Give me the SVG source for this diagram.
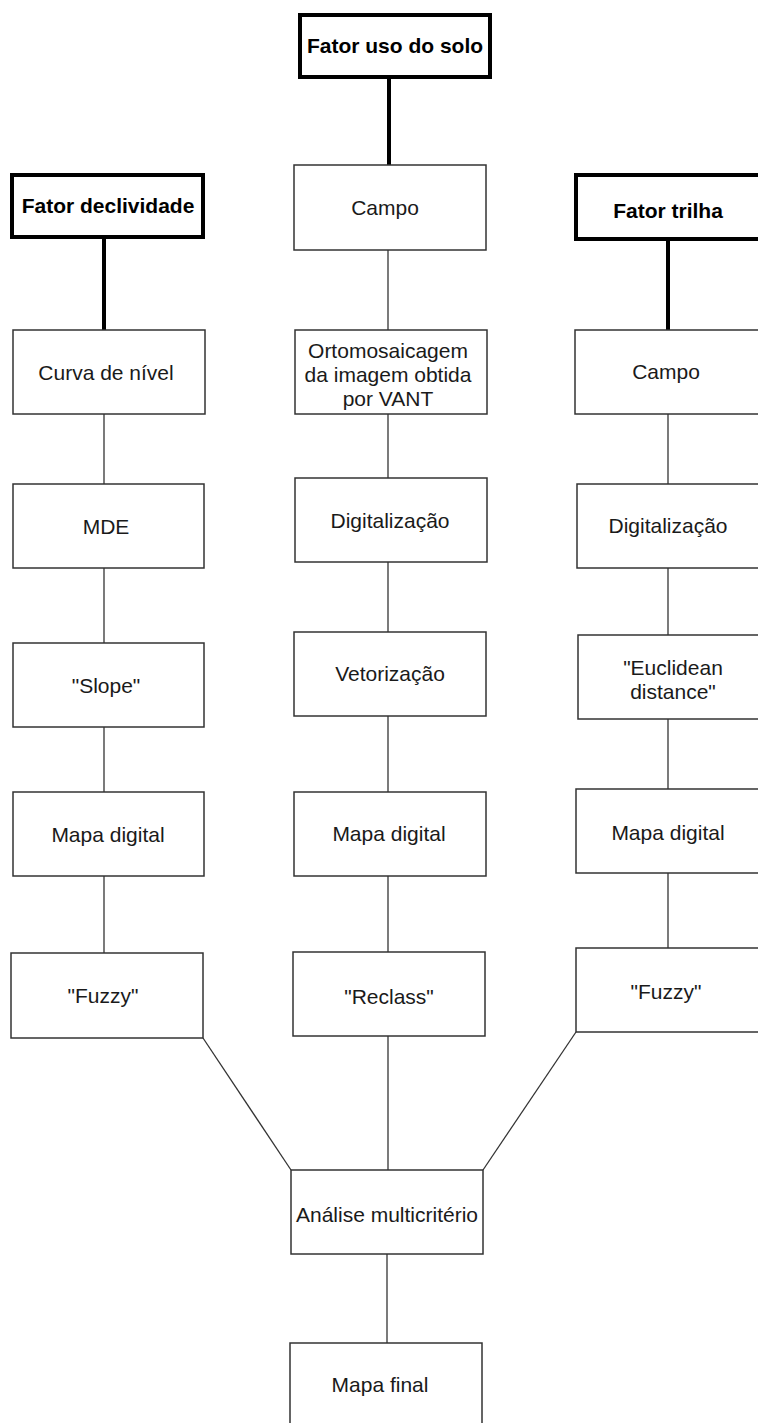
<svg xmlns="http://www.w3.org/2000/svg" width="758" height="1423" viewBox="0 0 758 1423">
<style>
.bg{fill:#ffffff}
.box{fill:#ffffff;stroke:#333333;stroke-width:1.5}
.hbox{fill:#ffffff;stroke:#000000;stroke-width:4}
.t{font-family:"Liberation Sans",Arial,sans-serif;font-size:21px;fill:#1a1a1a;text-anchor:middle}
.h{font-family:"Liberation Sans",Arial,sans-serif;font-size:21px;font-weight:bold;fill:#000000;text-anchor:middle}
.c{stroke:#333333;stroke-width:1.3;fill:none}
.ct{stroke:#000000;stroke-width:4;fill:none}
</style>
<rect class="bg" x="0" y="0" width="758" height="1423"/>
<g id="connectors">
<line class="ct" x1="389" y1="77" x2="389" y2="165"/>
<line class="ct" x1="104" y1="237" x2="104" y2="330"/>
<line class="ct" x1="668" y1="239" x2="668" y2="330"/>
<line class="c" x1="104" y1="414" x2="104" y2="484"/>
<line class="c" x1="104" y1="568" x2="104" y2="643"/>
<line class="c" x1="104" y1="727" x2="104" y2="792"/>
<line class="c" x1="104" y1="876" x2="104" y2="953"/>
<line class="c" x1="388" y1="250" x2="388" y2="330"/>
<line class="c" x1="388" y1="414" x2="388" y2="478"/>
<line class="c" x1="388" y1="562" x2="388" y2="632"/>
<line class="c" x1="388" y1="716" x2="388" y2="792"/>
<line class="c" x1="388" y1="876" x2="388" y2="952"/>
<line class="c" x1="388" y1="1036" x2="388" y2="1170"/>
<line class="c" x1="668" y1="414" x2="668" y2="484"/>
<line class="c" x1="668" y1="568" x2="668" y2="635"/>
<line class="c" x1="668" y1="719" x2="668" y2="789"/>
<line class="c" x1="668" y1="873" x2="668" y2="948"/>
<line class="c" x1="203" y1="1038" x2="291" y2="1170"/>
<line class="c" x1="576" y1="1032" x2="483" y2="1170"/>
<line class="c" x1="387" y1="1254" x2="387" y2="1343"/>
</g>
<g id="n-uso-solo"><rect class="hbox" x="300" y="15" width="190" height="62"/><text class="h" x="395" y="53">Fator uso do solo</text></g>
<g id="n-declividade"><rect class="hbox" x="12" y="175" width="191" height="62"/><text class="h" x="108" y="213">Fator declividade</text></g>
<g id="n-trilha"><rect class="hbox" x="576" y="175" width="200" height="64"/><text class="h" x="668" y="218">Fator trilha</text></g>
<g id="n-curva"><rect class="box" x="13" y="330" width="192" height="84"/><text class="t" x="106" y="380">Curva de nível</text></g>
<g id="n-mde"><rect class="box" x="13" y="484" width="191" height="84"/><text class="t" x="106" y="534">MDE</text></g>
<g id="n-slope"><rect class="box" x="13" y="643" width="191" height="84"/><text class="t" x="106" y="693">"Slope"</text></g>
<g id="n-mapa-l"><rect class="box" x="13" y="792" width="191" height="84"/><text class="t" x="108" y="842">Mapa digital</text></g>
<g id="n-fuzzy-l"><rect class="box" x="11" y="953" width="192" height="85"/><text class="t" x="103" y="1003">"Fuzzy"</text></g>
<g id="n-campo-c"><rect class="box" x="294" y="165" width="192" height="85"/><text class="t" x="385" y="215">Campo</text></g>
<g id="n-orto"><rect class="box" x="295" y="330" width="192" height="84"/><text class="t" x="388" y="358">Ortomosaicagem</text><text class="t" x="388" y="382">da imagem obtida</text><text class="t" x="388" y="406">por VANT</text></g>
<g id="n-digit-c"><rect class="box" x="295" y="478" width="192" height="84"/><text class="t" x="390" y="528">Digitalização</text></g>
<g id="n-vetor"><rect class="box" x="294" y="632" width="192" height="84"/><text class="t" x="390" y="681">Vetorização</text></g>
<g id="n-mapa-c"><rect class="box" x="294" y="792" width="192" height="84"/><text class="t" x="389" y="841">Mapa digital</text></g>
<g id="n-reclass"><rect class="box" x="293" y="952" width="192" height="84"/><text class="t" x="389" y="1004">"Reclass"</text></g>
<g id="n-campo-r"><rect class="box" x="575" y="330" width="192" height="84"/><text class="t" x="666" y="379">Campo</text></g>
<g id="n-digit-r"><rect class="box" x="577" y="484" width="192" height="84"/><text class="t" x="668" y="533">Digitalização</text></g>
<g id="n-eucl"><rect class="box" x="578" y="635" width="192" height="84"/><text class="t" x="673" y="675">"Euclidean</text><text class="t" x="673" y="699">distance"</text></g>
<g id="n-mapa-r"><rect class="box" x="576" y="789" width="192" height="84"/><text class="t" x="668" y="840">Mapa digital</text></g>
<g id="n-fuzzy-r"><rect class="box" x="576" y="948" width="192" height="84"/><text class="t" x="666" y="999">"Fuzzy"</text></g>
<g id="n-analise"><rect class="box" x="291" y="1170" width="192" height="84"/><text class="t" x="387" y="1222">Análise multicritério</text></g>
<g id="n-final"><rect class="box" x="290" y="1343" width="192" height="84"/><text class="t" x="380" y="1392">Mapa final</text></g>
</svg>
